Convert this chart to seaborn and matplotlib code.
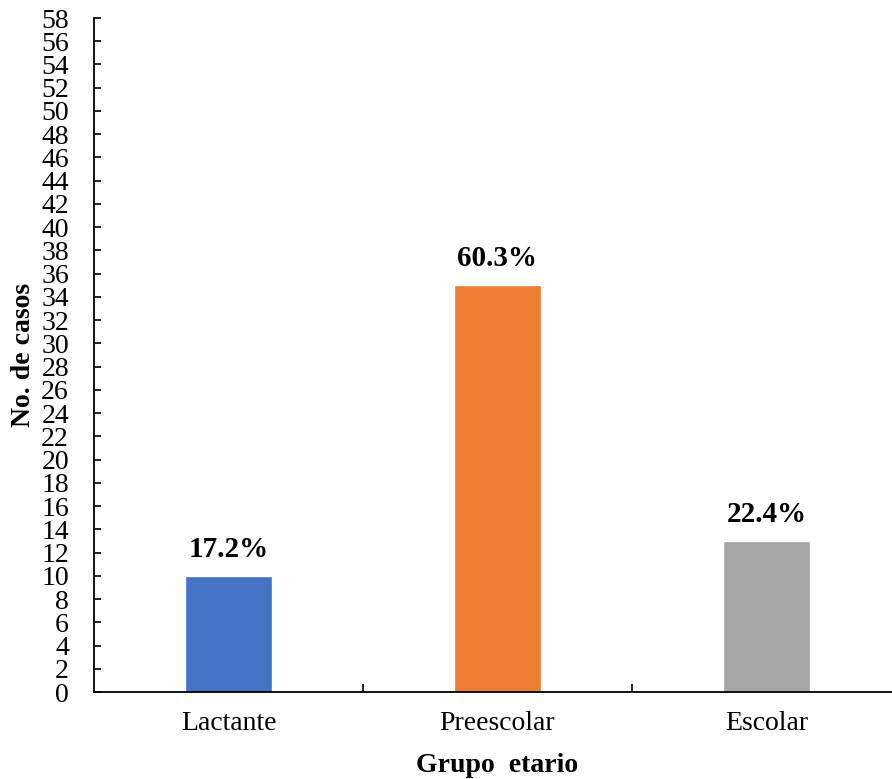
import matplotlib
matplotlib.use("Agg")
import matplotlib.pyplot as plt
import seaborn as sns
import pandas as pd

categories = ["Lactante", "Preescolar", "Escolar"]
casos = [10, 35, 13]
porcentajes = ["17.2%", "60.3%", "22.4%"]
colores = ["#4472C4", "#ED7D31", "#A5A5A5"]
y_ticks = list(range(0, 59, 2))

sns.set_theme(style="white")
plt.rcParams["font.family"] = ["Liberation Serif", "DejaVu Serif"]
plt.rcParams["text.color"] = "black"
plt.rcParams["axes.labelcolor"] = "black"
plt.rcParams["xtick.color"] = "black"
plt.rcParams["ytick.color"] = "black"

df = pd.DataFrame({"grupo": categories, "casos": casos})

fig = plt.figure(figsize=(8.92, 7.79), dpi=100)
ax = fig.add_axes([94 / 892, 1 - 692 / 779, (901 - 94) / 892, (692 - 18) / 779])

sns.barplot(data=df, x="grupo", y="casos", hue="grupo", palette=colores,
            width=0.32, legend=False, ax=ax, saturation=1)

ax.set_xlim(-0.5, 2.5)
ax.set_ylim(0, 58)
ax.set_yticks(y_ticks)
ax.set_yticklabels([str(t) for t in y_ticks], fontsize=20)
ax.set_xticks(range(len(categories)))
ax.set_xticklabels(categories, fontsize=20)
ax.set_xticks([0.5, 1.5], minor=True)

ax.tick_params(axis="y", direction="in", length=5, width=1.2, pad=18, left=True)
ax.tick_params(axis="x", which="major", length=0, pad=14)
ax.tick_params(axis="x", which="minor", direction="in", length=6, width=1.2, bottom=True)

for side in ["top", "right"]:
    ax.spines[side].set_visible(False)
for side in ["left", "bottom"]:
    ax.spines[side].set_color("black")
    ax.spines[side].set_linewidth(1.3)

for i, (v, p) in enumerate(zip(casos, porcentajes)):
    ax.text(i, v + 1.1, p, ha="center", va="bottom", fontsize=21, fontweight="bold")

ax.set_xlabel("Grupo  etario", fontsize=20, fontweight="bold", labelpad=12)
ax.set_ylabel("No. de casos", fontsize=20, fontweight="bold", labelpad=4)

fig.savefig("out.png", dpi=100)
